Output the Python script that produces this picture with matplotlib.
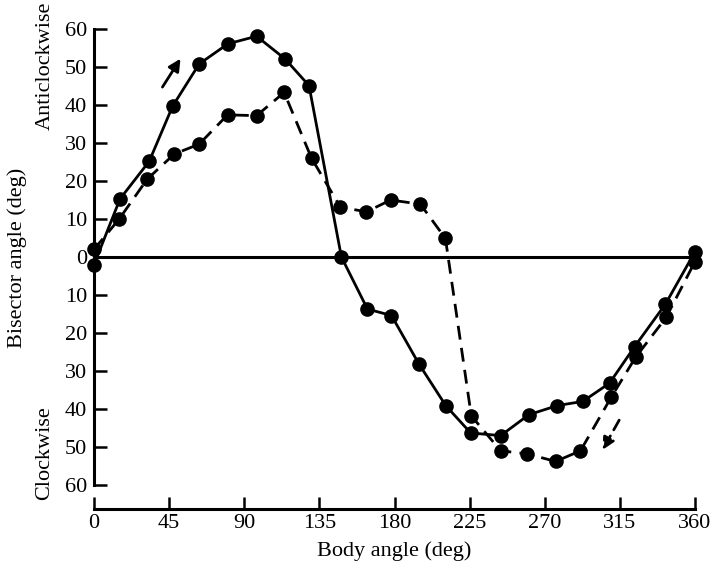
import matplotlib
matplotlib.use("Agg")
import matplotlib.pyplot as plt

# body angle (deg) and bisector angle (deg)
solid_x = [0, 15.6, 33.1, 47.1, 63.0, 80.2, 97.4, 114.5, 128.8, 148.2, 163.8, 178.2,
           194.7, 210.7, 225.6, 243.6, 260.5, 277.5, 292.8, 308.8, 323.8, 342.3, 360]
solid_y = [-2, 15.3, 25.2, 39.7, 50.8, 56.1, 58.1, 52.1, 45.1, 0, -13.7, -15.4,
           -28.2, -39.1, -46.3, -47.0, -41.5, -39.1, -38.0, -33.2, -23.6, -12.4, 1.4]

dashed_x = [0, 15.1, 31.9, 48.1, 63.0, 80.0, 97.4, 113.9, 130.3, 147.6, 163.2, 177.7,
            195.5, 210.5, 226.0, 243.6, 259.5, 276.5, 291.4, 309.8, 324.4, 342.7, 360]
dashed_y = [2, 10, 20.5, 27.1, 29.7, 37.4, 37.2, 43.3, 26, 13.1, 11.9, 15,
            13.9, 4.9, -41.8, -51, -51.8, -53.8, -51, -36.9, -26.4, -15.9, -1.2]

x_ticks = [0, 45, 90, 135, 180, 225, 270, 315, 360]
y_ticks = [-60, -50, -40, -30, -20, -10, 0, 10, 20, 30, 40, 50, 60]
y_tick_labels = [str(abs(v)) for v in y_ticks]

plt.rcParams["font.family"] = ["Liberation Serif", "DejaVu Serif"]

fig = plt.figure(figsize=(7.11, 5.69), dpi=100)
ax = fig.add_axes([94 / 711, 1 - 485 / 569, 601 / 711, 456 / 569])

ax.axhline(0, color="black", lw=2.2)
ax.plot(solid_x, solid_y, color="black", lw=2, marker="o", ms=9.5, clip_on=False)
ax.plot(dashed_x, dashed_y, color="black", lw=2, marker="o", ms=9.5,
        dashes=(5, 3), clip_on=False)

# direction arrows
ax.annotate("", xy=(52.7, 52.8), xytext=(40.1, 44.1),
            arrowprops=dict(arrowstyle="-|>", color="black", lw=2,
                            mutation_scale=18))
ax.annotate("", xy=(303.8, -51.4), xytext=(315.4, -42.3),
            arrowprops=dict(arrowstyle="-|>", color="black", lw=2,
                            linestyle=(0, (4, 2.5)), mutation_scale=18))

ax.set_xlim(0, 360)
ax.set_ylim(-60, 60)
ax.set_xticks(x_ticks)
ax.set_yticks(y_ticks)
ax.set_yticklabels(y_tick_labels)

for side in ["top", "right"]:
    ax.spines[side].set_visible(False)
ax.spines["left"].set_linewidth(2.2)
ax.spines["bottom"].set_linewidth(2.2)
ax.spines["bottom"].set_position(("outward", 17))
ax.tick_params(direction="in", length=9, width=1.8, labelsize=16)
ax.tick_params(axis="y", pad=5)
ax.tick_params(axis="x", pad=4)

ax.set_xlabel("Body angle (deg)", fontsize=16, labelpad=6)
fig.text(17 / 711, 1 - 258 / 569, "Bisector angle (deg)", rotation=90,
         ha="center", va="center", fontsize=16)
fig.text(45 / 711, 1 - 66 / 569, "Anticlockwise", rotation=90,
         ha="center", va="center", fontsize=16)
fig.text(45 / 711, 1 - 453 / 569, "Clockwise", rotation=90,
         ha="center", va="center", fontsize=16)

fig.savefig("out.png", dpi=100)
